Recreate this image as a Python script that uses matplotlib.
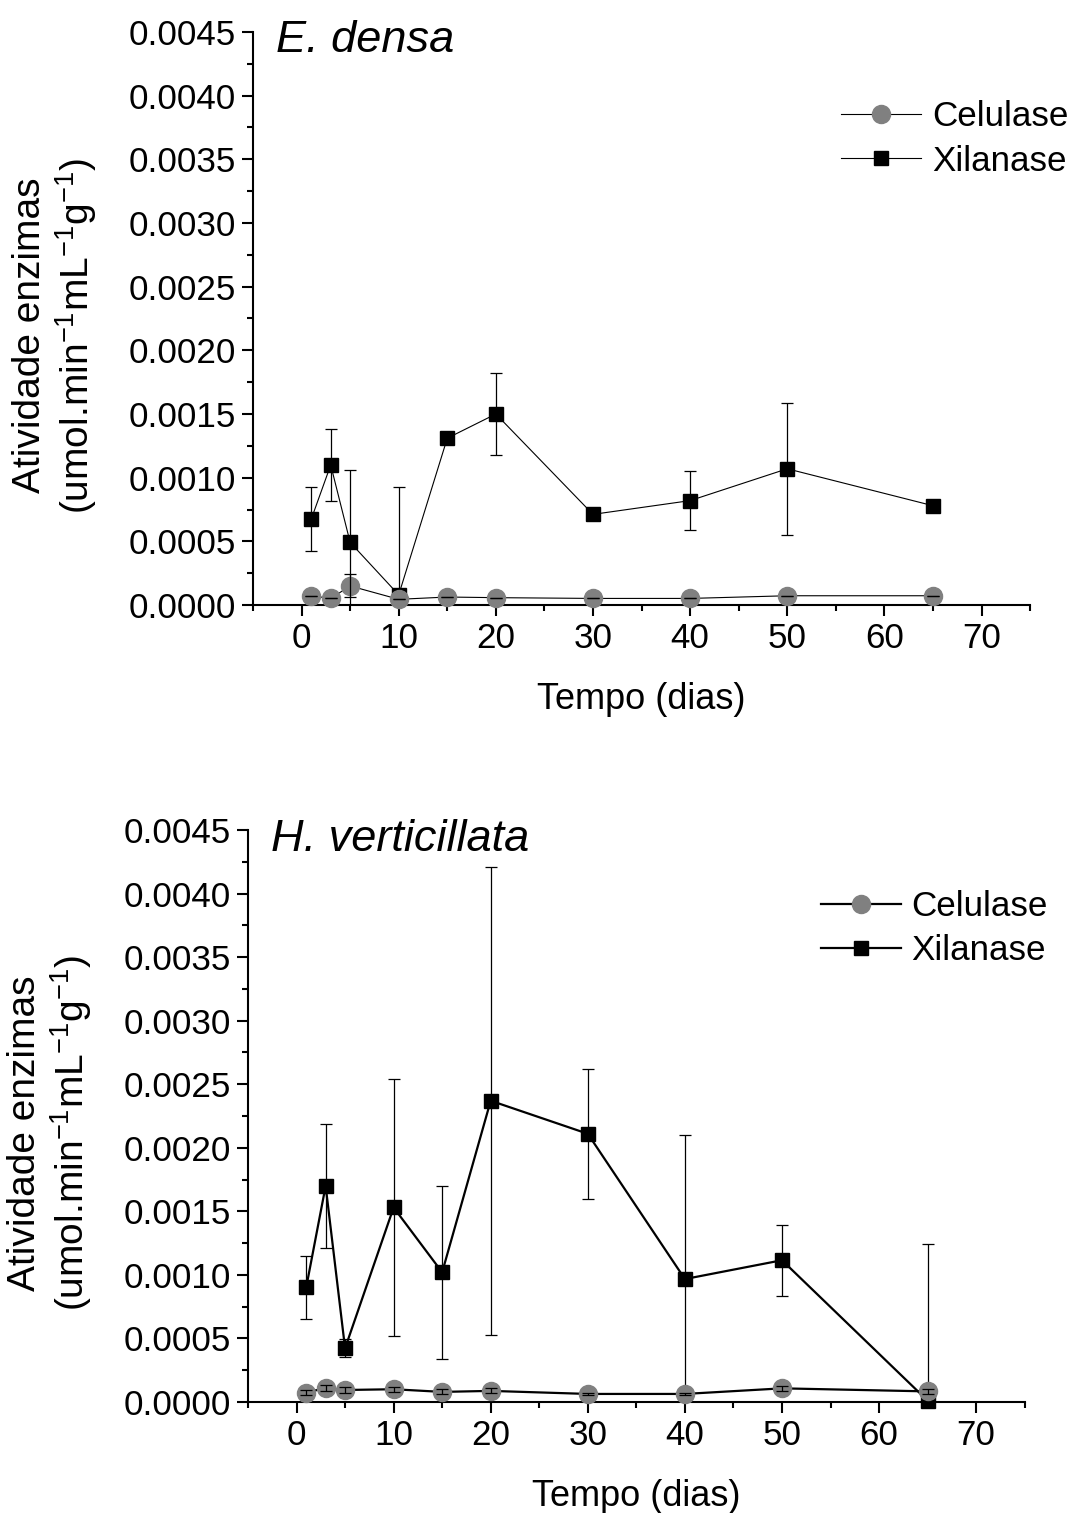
import matplotlib
matplotlib.use("Agg")
import matplotlib.pyplot as plt
from matplotlib.ticker import MultipleLocator, FormatStrFormatter
from matplotlib.lines import Line2D

plt.rcParams['font.family'] = ['Liberation Sans', 'DejaVu Sans']
plt.rcParams['mathtext.fontset'] = 'custom'
plt.rcParams['mathtext.rm'] = 'Liberation Sans'
plt.rcParams['mathtext.it'] = 'Liberation Sans:italic'

# days
dias = [1, 3, 5, 10, 15, 20, 30, 40, 50, 65]

# E. densa
densa_xil = [0.000675, 0.00110, 0.000492, 0.00008, 0.00131, 0.00150, 0.000712, 0.00082, 0.00107, 0.00078]
densa_xil_err = [0.00025, 0.00028, 0.00057, 0.00085, 0.00002, 0.00032, 0.0, 0.00023, 0.00052, 0.0]
densa_cel = [0.000073, 0.000052, 0.00015, 0.000045, 0.000063, 0.000058, 0.000052, 0.000052, 0.000073, 0.000073]
densa_cel_err = [0.0, 0.0, 0.00009, 0.0, 0.0, 0.0, 0.0, 0.0, 0.0, 0.0]

# H. verticillata
hv_xil = [0.000902, 0.00170, 0.000422, 0.00153, 0.00102, 0.00237, 0.00211, 0.000967, 0.001115, 0.00001]
hv_xil_err = [0.00025, 0.00049, 0.00007, 0.00101, 0.00068, 0.00184, 0.00051, 0.00113, 0.00028, 0.00123]
hv_cel = [0.000073, 0.00011, 0.000094, 0.0001, 0.000079, 0.000087, 0.000063, 0.000063, 0.000107, 0.000083]
hv_cel_err = [0.00002, 0.00002, 0.00002, 0.00002, 0.00002, 0.00002, 0.00001, 0.00001, 0.00002, 0.00002]

GREY = '#808080'
FS = 25.2

fig = plt.figure(figsize=(10.73, 15.13), dpi=100)
ax1 = fig.add_axes([0.2358, 0.6001, 0.7242, 0.3788])
ax2 = fig.add_axes([0.2311, 0.0734, 0.7239, 0.3780])


def draw(ax, xil, xil_err, cel, cel_err, lw, title, leg_x, leg_y):
    ax.errorbar(dias, xil, yerr=xil_err, fmt='none', ecolor='black',
                elinewidth=0.9, capsize=4.5, capthick=0.9, zorder=2)
    ax.plot(dias, xil, color='black', lw=lw, marker='s', ms=9.5,
            mfc='black', mec='black', zorder=3, clip_on=False)
    ax.plot(dias, cel, color='black', lw=lw, marker='o', ms=13,
            mfc=GREY, mec=GREY, zorder=4, clip_on=False)
    ax.errorbar(dias, cel, yerr=cel_err, fmt='none', ecolor='black',
                elinewidth=0.9, capsize=4.5, capthick=0.9, zorder=5)

    ax.set_xlim(-5, 75)
    ax.set_ylim(0, 0.0045)
    ax.xaxis.set_major_locator(MultipleLocator(10))
    ax.xaxis.set_minor_locator(MultipleLocator(5))
    ax.yaxis.set_major_locator(MultipleLocator(0.0005))
    ax.yaxis.set_minor_locator(MultipleLocator(0.00025))
    ax.yaxis.set_major_formatter(FormatStrFormatter('%.4f'))
    for s in ['top', 'right']:
        ax.spines[s].set_visible(False)
    for s in ['left', 'bottom']:
        ax.spines[s].set_linewidth(1.5)
    ax.tick_params(which='major', direction='out', length=8, width=1.5,
                   labelsize=FS, pad=4)
    ax.tick_params(which='minor', direction='out', length=4.5, width=1.5)

    ax.set_xlabel('Tempo (dias)', fontsize=26, labelpad=20)
    ax.set_ylabel('Atividade enzimas\n(umol.min$^{-1}$mL$^{-1}$g$^{-1}$)',
                  fontsize=28, linespacing=1.15)
    ax.yaxis.set_label_coords(-0.198, 0.47)

    ax.text(0.03, 1.02, title, transform=ax.transAxes, fontsize=32.5,
            style='italic', ha='left', va='top')

    handles = [
        Line2D([], [], color='black', lw=lw, marker='o', ms=13, mfc=GREY, mec=GREY),
        Line2D([], [], color='black', lw=lw, marker='s', ms=9.5, mfc='black', mec='black'),
    ]
    ax.legend(handles, ['Celulase', 'Xilanase'], loc='upper right',
              bbox_to_anchor=(leg_x, leg_y), frameon=False, fontsize=FS,
              handlelength=2.3, handletextpad=0.3, labelspacing=0.32,
              borderaxespad=0)


draw(ax1, densa_xil, densa_xil_err, densa_cel, densa_cel_err, 0.8, 'E. densa', 1.067, 0.905)
draw(ax2, hv_xil, hv_xil_err, hv_cel, hv_cel_err, 1.6, 'H. verticillata', 1.048, 0.92)

fig.savefig('out.png', dpi=100)
